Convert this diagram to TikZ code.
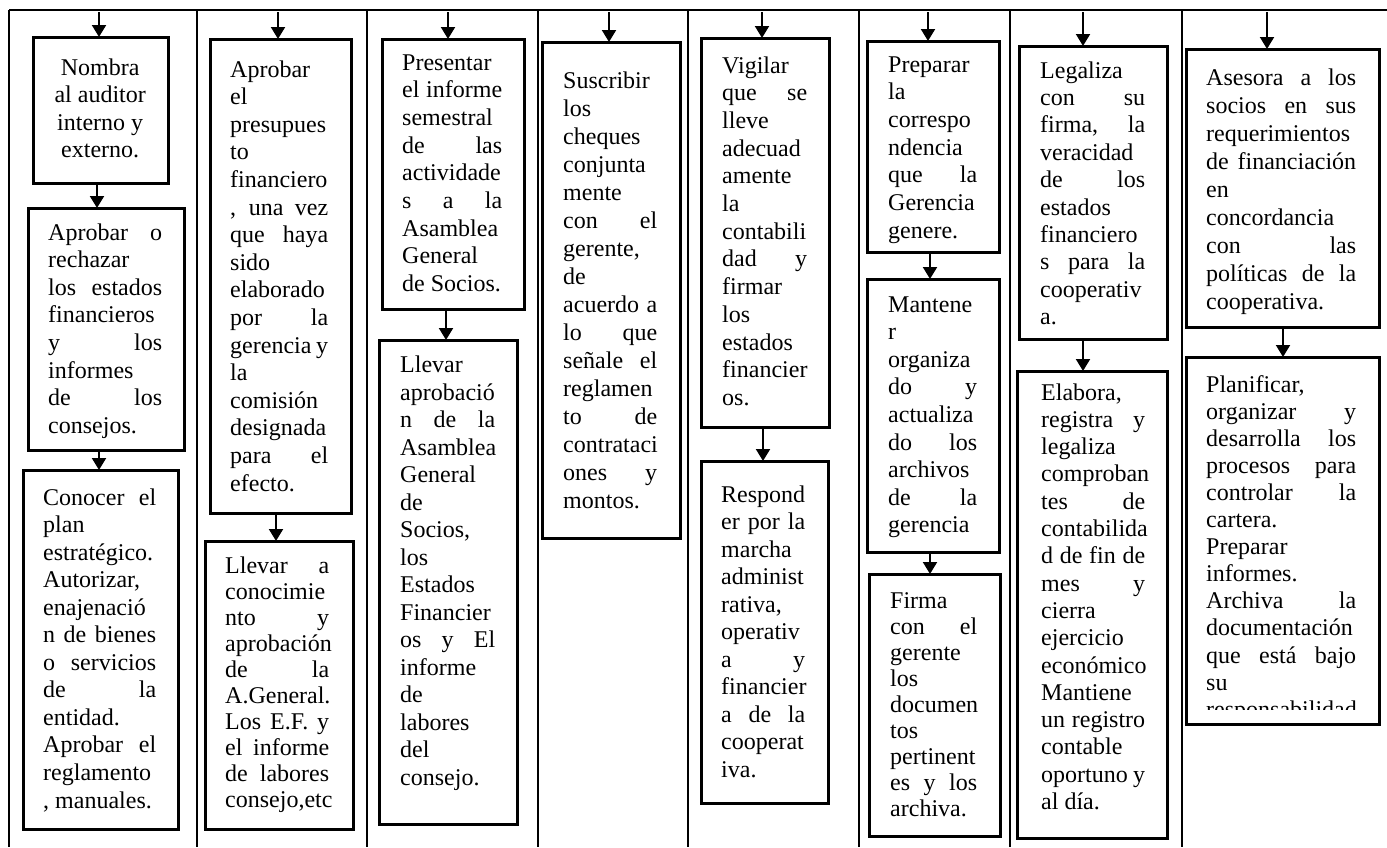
\documentclass[tikz,border=0pt]{standalone}
\usepackage{fontspec}
\setmainfont{Liberation Serif}
\usetikzlibrary{arrows.meta}

% one text line: justified, left aligned, centred
\newcommand\jrow[1]{\hbox to \linewidth{#1}}
\newcommand\lrow[1]{\hbox to \linewidth{#1\hfil}}
\newcommand\crow[1]{\hbox to \linewidth{\hfil#1\hfil}}
% block of lines with a given line pitch
\newcommand\txtblock[3]{\parbox[t]{#1pt}{\setlength\baselineskip{#2pt}\setlength\lineskiplimit{-100pt}#3}}
% framed step box from (x1,y1) to (x2,y2)
\newcommand\stepbox[5]{\node[boxstyle, anchor=north west,
  minimum width={#4-#2}, minimum height={#5-#3}] (#1) at (#2,#3) {};}

\begin{document}
\begin{tikzpicture}[x=1pt, y=-1pt,
  boxstyle/.style={draw, line width=2.6pt, inner sep=0pt},
  colline/.style={line width=2.2pt},
  txt/.style={inner sep=0pt, anchor=base west, font=\fontsize{24}{27.6}\selectfont},
  arr/.style={line width=2pt, -{Triangle[length=12pt, width=14pt]}, shorten >=-1pt}]

\useasboundingbox (0,0) rectangle (1387,847);

% column frame
\coordinate (tl) at (9,10);
\coordinate (tr) at (1387,10);
\draw[colline] (tl) -- (tr);
\foreach \xx/\nm in {9/d0,197/d1,367/d2,538/d3,688/d4,859/d5,1010/d6,1182/d7}{
  \coordinate (\nm t) at (\xx,10);
  \coordinate (\nm b) at (\xx,847);
  \draw[colline] (\nm t) -- (\nm b);
}

% ---------- column 1
\stepbox{a1}{32}{36}{167}{182}
\stepbox{a2}{27}{207}{183}{449}
\stepbox{a3}{22}{469}{177}{828}
\node[txt] (a1t) at (40,75) {\txtblock{120}{27.6}{%
\crow{Nombra}\crow{al auditor}\crow{interno y}\crow{externo.}}};
\node[txt] (a2t) at (48,240) {\txtblock{114}{27.6}{%
\jrow{Aprobar o}\lrow{rechazar}\jrow{los estados}\lrow{financieros}%
\jrow{y los}\lrow{informes}\jrow{de los}\lrow{consejos.}}};
\node[txt] (a3t) at (43,505) {\txtblock{113}{27.55}{%
\jrow{Conocer el}\lrow{plan}\lrow{estratégico.}\lrow{Autorizar,}%
\lrow{enajenació}\jrow{n de bienes}\jrow{o servicios}\jrow{de la}%
\lrow{entidad.}\jrow{Aprobar el}\lrow{reglamento}\lrow{, manuales.}}};

% ---------- column 2
\stepbox{b1}{209}{38}{350}{512}
\stepbox{b2}{204}{540}{352}{828}
\node[txt] (b1t) at (230,77) {\txtblock{98}{27.6}{%
\lrow{Aprobar}\lrow{el}\lrow{presupues}\lrow{to}\lrow{financiero}%
\jrow{, una vez}\jrow{que haya}\lrow{sido}\lrow{elaborado}\jrow{por la}%
\jrow{gerencia y}\lrow{la}\lrow{comisión}\lrow{designada}\jrow{para el}%
\lrow{efecto.}}};
\node[txt] (b2t) at (225,573) {\txtblock{104}{26}{%
\jrow{Llevar a}\lrow{conocimie}\jrow{nto y}\lrow{aprobación}\jrow{de la}%
\lrow{A.General.}\jrow{Los E.F. y}\jrow{el informe}\jrow{de labores}%
\lrow{consejo,etc}}};

% ---------- column 3
\stepbox{c1}{381}{38}{523}{308}
\stepbox{c2}{378}{339}{516}{823}
\node[txt] (c1t) at (402,70) {\txtblock{100}{27.7}{%
\lrow{Presentar}\jrow{el informe}\lrow{semestral}\jrow{de las}%
\lrow{actividade}\jrow{s a la}\lrow{Asamblea}\lrow{General}\lrow{de Socios.}}};
\node[txt] (c2t) at (400,372.5) {\txtblock{95}{27.5}{%
\lrow{Llevar}\lrow{aprobació}\jrow{n de la}\lrow{Asamblea}\lrow{General}%
\lrow{de}\lrow{Socios,}\lrow{los}\lrow{Estados}\lrow{Financier}%
\jrow{os y El}\lrow{informe}\lrow{de}\lrow{labores}\lrow{del}\lrow{consejo.}}};

% ---------- column 4
\stepbox{d1}{541}{41}{679}{537}
\node[txt] (d1t) at (563,88) {\txtblock{94}{28}{%
\lrow{Suscribir}\lrow{los}\lrow{cheques}\lrow{conjunta}\lrow{mente}%
\jrow{con el}\lrow{gerente,}\lrow{de}\jrow{acuerdo a}\jrow{lo que}%
\jrow{señale el}\lrow{reglamen}\jrow{to de}\lrow{contrataci}\jrow{ones y}%
\lrow{montos.}}};

% ---------- column 5
\stepbox{e1}{700}{37}{828}{426}
\stepbox{e2}{700}{460}{827}{802}
\node[txt] (e1t) at (722,73) {\txtblock{85}{27.7}{%
\lrow{Vigilar}\jrow{que se}\lrow{lleve}\lrow{adecuad}\lrow{amente}%
\lrow{la}\lrow{contabili}\jrow{dad y}\lrow{firmar}\lrow{los}\lrow{estados}%
\lrow{financier}\lrow{os.}}};
\node[txt] (e2t) at (721,502) {\txtblock{84}{27.5}{%
\lrow{Respond}\jrow{er por la}\lrow{marcha}\lrow{administ}\lrow{rativa,}%
\lrow{operativ}\jrow{a y}\lrow{financier}\jrow{a de la}\lrow{cooperat}%
\lrow{iva.}}};

% ---------- column 6
\stepbox{f1}{866}{40}{998}{251}
\stepbox{f2}{866}{278}{998}{551}
\stepbox{f3}{868}{573}{999}{835}
\node[txt] (f1t) at (888,72) {\txtblock{89}{27.7}{%
\lrow{Preparar}\lrow{la}\lrow{correspo}\lrow{ndencia}\jrow{que la}%
\lrow{Gerencia}\lrow{genere.}}};
\node[txt] (f2t) at (888,312) {\txtblock{89}{27.6}{%
\lrow{Mantene}\lrow{r}\lrow{organiza}\jrow{do y}\lrow{actualiza}%
\jrow{do los}\lrow{archivos}\jrow{de la}\lrow{gerencia}}};
\node[txt] (f3t) at (890,608) {\txtblock{87}{26.1}{%
\lrow{Firma}\jrow{con el}\lrow{gerente}\lrow{los}\lrow{documen}\lrow{tos}%
\lrow{pertinent}\jrow{es y los}\lrow{archiva.}}};

% ---------- column 7
\stepbox{g1}{1018}{45}{1166}{338}
\stepbox{g2}{1016}{370}{1166}{837}
\node[txt] (g1t) at (1040,78) {\txtblock{105}{27.4}{%
\lrow{Legaliza}\jrow{con su}\jrow{firma, la}\lrow{veracidad}\jrow{de los}%
\lrow{estados}\lrow{financiero}\jrow{s para la}\lrow{cooperativ}\lrow{a.}}};
\node[txt] (g2t) at (1041,400) {\txtblock{104}{27.3}{%
\lrow{Elabora,}\jrow{registra y}\lrow{legaliza}\lrow{comproban}\jrow{tes de}%
\lrow{contabilida}\jrow{d de fin de}\jrow{mes y}\lrow{cierra}\lrow{ejercicio}%
\lrow{económico}\lrow{Mantiene}\jrow{un registro}\lrow{contable}%
\jrow{oportuno y}\lrow{al día.}}};

% ---------- column 8
\stepbox{h1}{1185}{48}{1378}{326}
\stepbox{h2}{1185}{356}{1378}{723}
\node[txt] (h1t) at (1206,85) {\txtblock{150}{28}{%
\jrow{Asesora a los}\jrow{socios en sus}\lrow{requerimientos}%
\jrow{de financiación}\lrow{en}\lrow{concordancia}\jrow{con las}%
\jrow{políticas de la}\lrow{cooperativa.}}};
\begin{scope}
\clip (1188,359) rectangle (1375,709);
\node[txt] (h2t) at (1206,392) {\txtblock{150}{27.1}{%
\lrow{Planificar,}\jrow{organizar y}\jrow{desarrolla los}\jrow{procesos para}%
\jrow{controlar la}\lrow{cartera.}\lrow{Preparar}\lrow{informes.}%
\jrow{Archiva la}\lrow{documentación}\jrow{que está bajo}\lrow{su}%
\lrow{responsabilidad}}};
\end{scope}

% ---------- arrows entering each column
\foreach \xx/\bx in {99/a1,278/b1,448/c1,609/d1,762/e1,928/f1,1083/g1,1267/h1}{
  \coordinate (in\bx) at (\xx,12);
  \draw[arr] (in\bx) -- (in\bx |- \bx.north);
}

% ---------- arrows between steps
\coordinate (xa1) at (97,0);   \coordinate (xa2) at (99,0);
\coordinate (xb1) at (276,0);
\coordinate (xc1) at (446,0);
\coordinate (xe1) at (763,0);
\coordinate (xf1) at (930,0);  \coordinate (xf2) at (930,0);
\coordinate (xg1) at (1083,0);
\coordinate (xh1) at (1283,0);
\draw[arr] (a1.south -| xa1) -- (a2.north -| xa1);
\draw[arr] (a2.south -| xa2) -- (a3.north -| xa2);
\draw[arr] (b1.south -| xb1) -- (b2.north -| xb1);
\draw[arr] (c1.south -| xc1) -- (c2.north -| xc1);
\draw[arr] (e1.south -| xe1) -- (e2.north -| xe1);
\draw[arr] (f1.south -| xf1) -- (f2.north -| xf1);
\draw[arr] (f2.south -| xf2) -- (f3.north -| xf2);
\draw[arr] (g1.south -| xg1) -- (g2.north -| xg1);
\draw[arr] (h1.south -| xh1) -- (h2.north -| xh1);

\end{tikzpicture}
\end{document}
